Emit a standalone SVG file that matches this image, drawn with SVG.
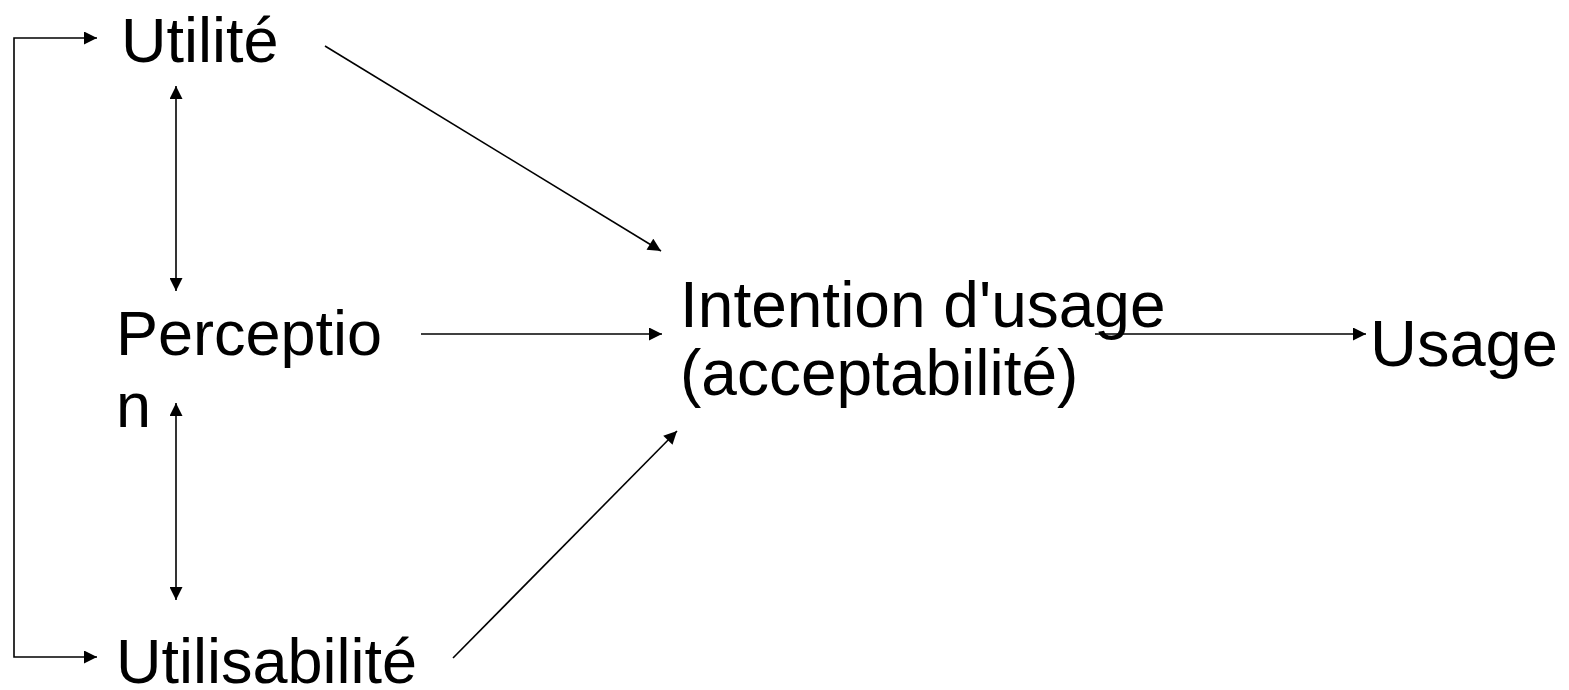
<svg xmlns="http://www.w3.org/2000/svg" width="1569" height="690" viewBox="0 0 1569 690">
<defs>
<marker id="ah" viewBox="0 0 10 10" refX="10" refY="5" markerWidth="14" markerHeight="13" markerUnits="userSpaceOnUse" orient="auto-start-reverse">
<path d="M0,0 L10,5 L0,10 Z" fill="#000"/>
</marker>
<style>
.lbl{font-family:"Liberation Sans",Arial,sans-serif;font-size:63px;fill:#000}
.c{stroke:#000;stroke-width:1.6;fill:none}
</style>
</defs>
<rect width="1569" height="690" fill="#fff"/>
<g id="n-utilite"><text class="lbl" x="121" y="62">Utilité</text></g>
<g id="n-perception"><text class="lbl" x="116" y="355">Perceptio</text><text class="lbl" x="116" y="427">n</text></g>
<g id="n-utilisabilite"><text class="lbl" x="116" y="683">Utilisabilité</text></g>
<g id="n-intention"><text class="lbl" x="680" y="327" style="font-size:64px">Intention d'usage</text><text class="lbl" x="680" y="395" style="font-size:64px">(acceptabilité)</text></g>
<g id="n-usage"><text class="lbl" x="1370" y="366" style="font-size:65px">Usage</text></g>
<g id="connectors">
<path class="c" d="M97,38 H14 V657 H97" marker-start="url(#ah)" marker-end="url(#ah)"/>
<line class="c" x1="176" y1="86" x2="176" y2="291" marker-start="url(#ah)" marker-end="url(#ah)"/>
<line class="c" x1="176" y1="403" x2="176" y2="600" marker-start="url(#ah)" marker-end="url(#ah)"/>
<line class="c" x1="325" y1="46" x2="661" y2="251" marker-end="url(#ah)"/>
<line class="c" x1="421" y1="334" x2="662" y2="334" marker-end="url(#ah)"/>
<line class="c" x1="453" y1="658" x2="677" y2="431" marker-end="url(#ah)"/>
<line class="c" x1="1095" y1="334" x2="1366" y2="334" marker-end="url(#ah)"/>
</g>
</svg>
